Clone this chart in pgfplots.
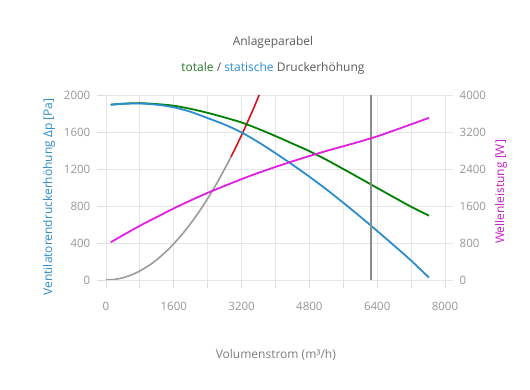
\documentclass[border=0pt]{standalone}
\usepackage{pgfplots}
\pgfplotsset{compat=1.18}
\usepackage{fontspec}
\setmainfont{Open Sans}
\definecolor{cblue}{RGB}{44,141,206}
\definecolor{cgreen}{RGB}{0,128,0}
\definecolor{cgreentxt}{RGB}{40,120,40}
\definecolor{cmag}{RGB}{225,30,225}
\definecolor{cmagtxt}{RGB}{200,30,200}
\definecolor{cred}{RGB}{210,20,30}
\definecolor{cpar}{RGB}{155,155,155}
\definecolor{cvline}{RGB}{140,140,140}
\definecolor{cgrid}{RGB}{230,230,230}
\definecolor{ctickmark}{RGB}{215,222,232}
\definecolor{cticklab}{RGB}{150,150,150}
\definecolor{ctitle}{RGB}{90,90,90}
\definecolor{cxlab}{RGB}{125,125,125}
\begin{document}
\begin{tikzpicture}
\path[use as bounding box] (-106pt,-110pt) rectangle (424pt,280pt);
\begin{axis}[
  at={(0pt,0pt)}, anchor=south west,
  width=339pt, height=185pt, scale only axis,
  xmin=0, xmax=8000, ymin=0, ymax=2000,
  axis line style={draw=none},
  xtick={0,800,...,8000},
  xticklabels={0,,1600,,3200,,4800,,6400,,8000},
  ytick={0,400,...,2000},
  xtick pos=bottom, ytick pos=left,
  tick align=outside, major tick length=8.5pt,
  every tick/.style={draw=ctickmark, line width=0.8pt},
  grid=major, major grid style={draw=cgrid, line width=0.8pt},
  scaled ticks=false,
  /pgf/number format/1000 sep={},
  /pgf/number format/assume math mode=true,
  ticklabel style={font=\fontsize{11.5}{13}\selectfont, text=cticklab},
  yticklabel style={inner sep=0pt, xshift=-7pt},
  xticklabel style={inner sep=0pt, anchor=north, yshift=-13pt},
  xlabel={Volumenstrom (m³/h)},
  every axis x label/.style={at={(axis description cs:0.501,0)}, anchor=center, yshift=-75pt, font=\fontsize{12}{14}\selectfont, text=cxlab},
  ylabel={Ventilatorendruckerhöhung Δp [Pa]},
  every axis y label/.style={at={(axis description cs:-0.168,0.449)}, rotate=90, anchor=center, font=\fontsize{12}{14}\selectfont, text=cblue},
  clip=true,
]
% system parabola (gray part)
\addplot[cpar, line width=1.6pt, smooth] coordinates {
 (0,0) (200,6) (400,24) (600,55) (800,98) (1000,153) (1200,220) (1400,300)
 (1600,392) (1800,496) (2000,612) (2200,740) (2400,881) (2600,1034) (2800,1200) (2950,1331)};
% system parabola (red part)
\addplot[cred, line width=1.6pt, smooth] coordinates {
 (2950,1331) (3100,1470) (3200,1567) (3300,1666) (3400,1769) (3500,1874) (3615,2000)};
% total pressure (green)
\addplot[cgreen, line width=1.8pt, smooth] coordinates {
 (111,1895) (400,1906) (800,1912) (1200,1902) (1600,1884) (2000,1850) (2400,1807)
 (2800,1757) (3200,1703) (3600,1633) (4000,1556) (4400,1475) (4800,1393) (5200,1300)
 (5600,1200) (6000,1098) (6400,995) (6800,893) (7200,792) (7623,695)};
% static pressure (blue)
\addplot[cblue, line width=1.8pt, smooth] coordinates {
 (111,1895) (400,1905) (800,1908) (1200,1895) (1600,1867) (2000,1818) (2400,1750)
 (2800,1680) (3200,1595) (3600,1489) (4000,1371) (4400,1247) (4800,1117) (5200,980)
 (5600,835) (6000,685) (6400,530) (6800,372) (7200,210) (7623,25)};
% operating volume flow (vertical line)
\addplot[cvline, line width=2.2pt] coordinates {(6254,0) (6254,2000)};
\end{axis}
\begin{axis}[
  at={(0pt,0pt)}, anchor=south west,
  width=339pt, height=185pt, scale only axis,
  xmin=0, xmax=8000, ymin=0, ymax=4000,
  axis x line=none,
  axis y line*=right,
  axis line style={draw=none},
  ytick={0,800,...,4000},
  tick align=outside, major tick length=8.5pt,
  every tick/.style={draw=cgrid, line width=0.8pt},
  scaled ticks=false,
  /pgf/number format/1000 sep={},
  /pgf/number format/assume math mode=true,
  ticklabel style={font=\fontsize{11.5}{13}\selectfont, text=cticklab},
  yticklabel style={inner sep=0pt, xshift=6pt, anchor=west},
  ylabel={Wellenleistung [W]},
  every axis y label/.style={at={(axis description cs:1.165,0.476)}, rotate=90, anchor=center, font=\fontsize{12}{14}\selectfont, text=cmagtxt},
]
\addplot[cmag, line width=1.8pt, smooth] coordinates {
 (111,815) (400,968) (800,1173) (1200,1361) (1600,1549) (2000,1721) (2400,1885)
 (2800,2035) (3200,2181) (3600,2318) (4000,2445) (4400,2565) (4800,2680) (5200,2790)
 (5600,2892) (6000,2995) (6400,3106) (6800,3234) (7200,3366) (7623,3506)};
\end{axis}
\node[font=\fontsize{12}{14}\selectfont, text=ctitle] at (167pt,238pt) {Anlageparabel};
\node[font=\fontsize{12}{14}\selectfont, text=ctitle] at (167pt,212pt) {\textcolor{cgreentxt}{totale} / \textcolor{cblue}{statische} Druckerhöhung};
\end{tikzpicture}
\end{document}
